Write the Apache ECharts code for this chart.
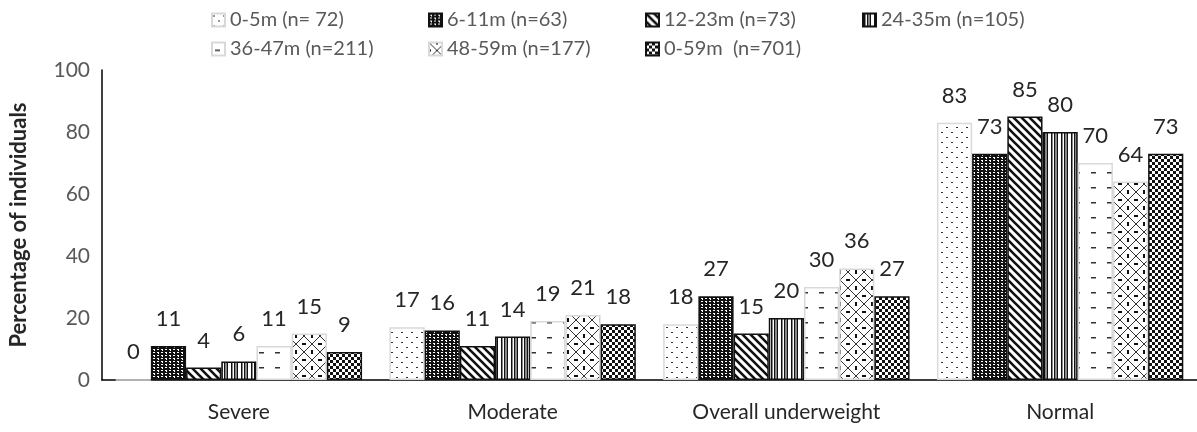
<!DOCTYPE html>
<html>
<head>
<meta charset="utf-8">
<script src="https://cdn.jsdelivr.net/npm/echarts@6/dist/echarts.min.js"></script>
<style>
  html, body { margin: 0; padding: 0; background: #fff; }
  #chart { width: 1197px; height: 432px; }
</style>
</head>
<body>
<div id="chart"></div>
<script>
// Underweight categories on the x axis
const categories = ['Severe', 'Moderate', 'Overall underweight', 'Normal'];

// Age groups (legend names)
const groupNames = ['0-5m (n= 72)', '6-11m (n=63)', '12-23m (n=73)', '24-35m (n=105)',
                    '36-47m (n=211)', '48-59m (n=177)', '0-59m  (n=701)'];

// Percentage of individuals per age group, one value per category
const v0_5   = [0, 17, 18, 83];
const v6_11  = [11, 16, 27, 73];
const v12_23 = [4, 11, 15, 85];
const v24_35 = [6, 14, 20, 80];
const v36_47 = [11, 19, 30, 70];
const v48_59 = [15, 21, 36, 64];
const v0_59  = [9, 18, 27, 73];

const yTicks = [0, 20, 40, 60, 80, 100];

const seriesValues = [v0_5, v6_11, v12_23, v24_35, v36_47, v48_59, v0_59];

// ---- monochrome fill patterns ----
function makeCanvas(w, h, draw) {
  const c = document.createElement('canvas');
  c.width = w; c.height = h;
  const ctx = c.getContext('2d');
  ctx.fillStyle = '#fff';
  ctx.fillRect(0, 0, w, h);
  draw(ctx, w, h);
  return c;
}
const patterns = [
  // staggered small dots
  makeCanvas(10, 10, (ctx) => {
    ctx.fillStyle = '#333';
    ctx.fillRect(1, 2, 2, 1);
    ctx.fillRect(6, 7, 2, 1);
  }),
  // dense plaid
  makeCanvas(8, 6, (ctx) => {
    ctx.fillStyle = '#111';
    ctx.fillRect(0, 0, 8, 6);
    ctx.fillStyle = '#fff';
    ctx.fillRect(1, 1, 2, 1);
    ctx.fillRect(5, 1, 2, 1);
    ctx.fillRect(1, 4, 2, 1);
    ctx.fillRect(5, 4, 2, 1);
    ctx.fillRect(2, 2, 1, 1);
    ctx.fillRect(6, 5, 1, 1);
  }),
  // wide downward diagonal
  makeCanvas(8, 8, (ctx) => {
    ctx.strokeStyle = '#111';
    ctx.lineWidth = 2.6;
    ctx.beginPath();
    ctx.moveTo(-2, -2); ctx.lineTo(10, 10);
    ctx.moveTo(-10, -2); ctx.lineTo(2, 10);
    ctx.moveTo(6, -2); ctx.lineTo(18, 10);
    ctx.stroke();
  }),
  // vertical lines
  makeCanvas(10, 4, (ctx) => {
    ctx.fillStyle = '#111';
    ctx.fillRect(1, 0, 1.5, 4);
    ctx.fillRect(4, 0, 1.5, 4);
    ctx.fillRect(6.5, 0, 1.5, 4);
  }),
  // dashed horizontal
  makeCanvas(16, 15, (ctx) => {
    ctx.fillStyle = '#333';
    ctx.fillRect(3, 7, 5, 1.5);
  }),
  // dotted trellis
  makeCanvas(16, 16, (ctx) => {
    ctx.strokeStyle = '#333';
    ctx.lineWidth = 1;
    ctx.beginPath();
    ctx.moveTo(0, 0); ctx.lineTo(16, 16);
    ctx.moveTo(16, 0); ctx.lineTo(0, 16);
    ctx.stroke();
    ctx.fillStyle = '#111';
    ctx.fillRect(7, 0, 2, 2);
    ctx.fillRect(0, 7, 2, 2);
    ctx.fillRect(14, 7, 2, 2);
    ctx.fillRect(7, 14, 2, 2);
  }),
  // small checkerboard
  makeCanvas(6, 6, (ctx) => {
    ctx.fillStyle = '#111';
    ctx.fillRect(0, 0, 3, 3);
    ctx.fillRect(3, 3, 3, 3);
  })
];
const borderColors = ['#d9d9d9', '#111', '#111', '#111', '#d9d9d9', '#d9d9d9', '#111'];

const FONT = 'Lato, "Open Sans", sans-serif';

const series = seriesValues.map((vals, i) => ({
  name: groupNames[i],
  type: 'bar',
  data: vals,
  barGap: '0%',
  barCategoryGap: '10%',
  itemStyle: {
    color: { image: patterns[i], repeat: 'repeat' },
    borderColor: borderColors[i],
    borderWidth: 1.5
  },
  label: {
    show: true,
    position: 'top',
    distance: 16,
    color: '#262626',
    fontSize: 22,
    fontFamily: FONT
  }
}));

// Legend entries laid out in a four-column grid, two rows
const legendCols = [206, 423, 640, 857];
const legendRows = [5, 34];
const legends = groupNames.map((n, i) => ({
  data: [{ name: n, icon: 'rect' }],
  left: legendCols[i % 4],
  top: legendRows[Math.floor(i / 4)],
  itemWidth: 13,
  itemHeight: 13,
  itemGap: 4,
  textStyle: { color: '#595959', fontSize: 20, fontFamily: FONT },
  selectedMode: false
}));

const chart = echarts.init(document.getElementById('chart'), null, { renderer: 'canvas' });
chart.setOption({
  animation: false,
  backgroundColor: '#fff',
  legend: legends,
  grid: { left: 100, right: 0, top: 70, bottom: 52 },
  xAxis: {
    type: 'category',
    data: categories,
    axisLine: { lineStyle: { color: '#000', width: 1.5 } },
    axisTick: { show: false },
    axisLabel: { color: '#262626', fontSize: 21, fontFamily: FONT, margin: 22 }
  },
  yAxis: {
    type: 'value',
    min: yTicks[0],
    max: yTicks[yTicks.length - 1],
    interval: yTicks[1] - yTicks[0],
    name: 'Percentage of individuals',
    nameLocation: 'middle',
    nameGap: 72,
    nameTextStyle: { color: '#262626', fontSize: 22, fontWeight: 'bold', fontFamily: FONT },
    axisLine: { show: true, lineStyle: { color: '#000', width: 1.5 } },
    axisTick: { show: false },
    splitLine: { show: false },
    axisLabel: { color: '#595959', fontSize: 21, fontFamily: FONT, margin: 12 }
  },
  series: series
});
</script>
</body>
</html>
